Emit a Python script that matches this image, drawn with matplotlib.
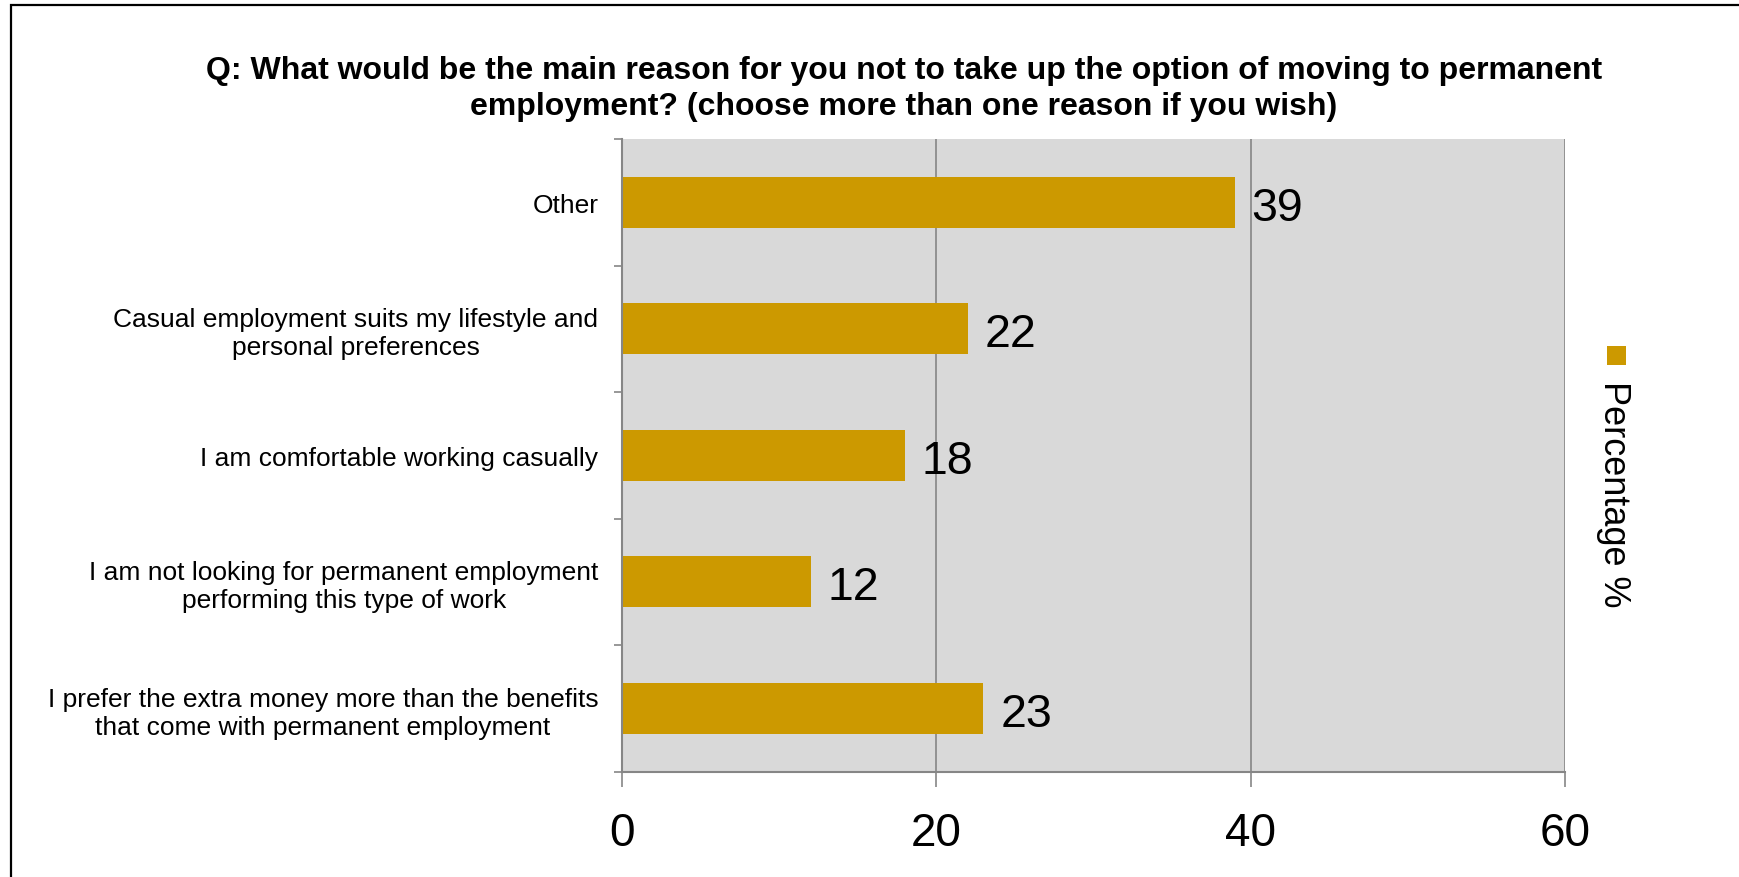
import matplotlib
matplotlib.use("Agg")
import matplotlib.pyplot as plt
from matplotlib.patches import Rectangle
from matplotlib.ticker import FixedLocator

plt.rcParams['font.family'] = ['Liberation Sans', 'DejaVu Sans']

categories = [
    "I prefer the extra money more than the benefits\nthat come with permanent employment",
    "I am not looking for permanent employment\nperforming this type of work",
    "I am comfortable working casually",
    "Casual employment suits my lifestyle and\npersonal preferences",
    "Other",
]
values = [23, 12, 18, 22, 39]
xticks = [0, 20, 40, 60]
title = ("Q: What would be the main reason for you not to take up the option of moving to permanent\n"
         "employment? (choose more than one reason if you wish)")
legend_label = "Percentage %"

W, H = 1739, 878
fig = plt.figure(figsize=(W / 100, H / 100), dpi=100)

# outer frame
fig.patches.append(Rectangle((11 / W, -0.1), 1.2, 1 - 6 / H + 0.1, transform=fig.transFigure,
                             fill=False, edgecolor='black', linewidth=1.6))

left, right, top, bottom = 622, 1565, 140, 772.5
ax = fig.add_axes([left / W, 1 - bottom / H, (right - left) / W, (bottom - top) / H])
ax.set_facecolor('#D9D9D9')

gray = '#868686'
bar_color = '#CC9900'
y = list(range(len(categories)))
ax.barh(y, values, height=0.40, color=bar_color, zorder=3)

for yi, v in zip(y, values):
    ax.annotate(str(v), (v, yi), xytext=(12, -4), textcoords='offset points',
                va='center', ha='left', fontsize=33.5, color='black', zorder=4)

ax.set_xlim(0, 60)
ax.set_ylim(-0.5, len(categories) - 0.5)
ax.set_xticks(xticks)
ax.set_xticklabels([str(t) for t in xticks], fontsize=33)
ax.set_yticks(y)
ax.set_yticklabels(categories, fontsize=19, ha='right', multialignment='center',
                   linespacing=1.2)
ax.yaxis.set_minor_locator(FixedLocator([i - 0.5 for i in range(len(categories) + 1)]))

ax.tick_params(axis='y', which='major', length=0, pad=17)
ax.tick_params(axis='y', which='minor', length=6, width=1.2, color=gray, direction='out')
ax.tick_params(axis='x', which='major', length=10.5, width=1.2, color=gray, direction='out', pad=18)

for x in xticks[1:]:
    ax.axvline(x, color=gray, linewidth=1.2, zorder=2)

for s in ['top', 'right']:
    ax.spines[s].set_visible(False)
for s in ['left', 'bottom']:
    ax.spines[s].set_color(gray)
    ax.spines[s].set_linewidth(1.5)
    ax.spines[s].set_zorder(5)

fig.text(904 / W, 1 - 89 / H, title, ha='center', va='center', fontsize=23,
         fontweight='bold', linespacing=1.25)

# legend
fig.patches.append(Rectangle((1607 / W, 1 - 366 / H), 19 / W, 19 / H, transform=fig.transFigure,
                             facecolor=bar_color, edgecolor='none'))
fig.text(1613 / W, 1 - 494 / H, legend_label, rotation=-90, ha='center', va='center', fontsize=26)

fig.savefig('out.png', dpi=100)
